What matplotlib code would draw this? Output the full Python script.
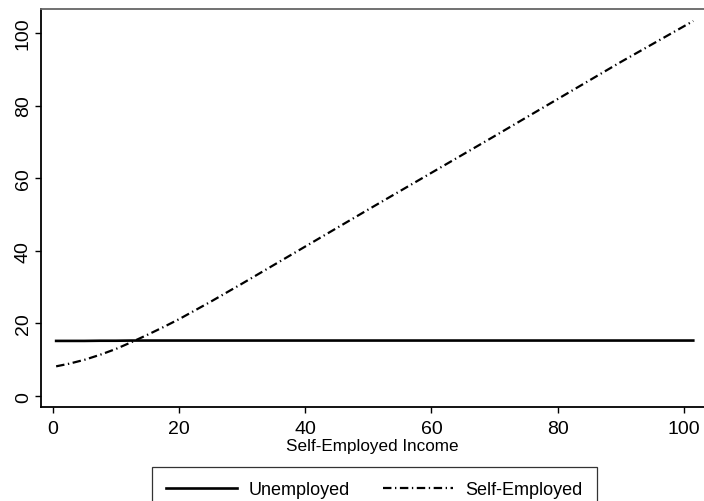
import matplotlib
matplotlib.use("Agg")
import matplotlib.pyplot as plt

plt.rcParams["font.family"] = ["Liberation Sans", "DejaVu Sans"]

# income grid and predicted values
income = [0.5, 2.5, 5, 7.5, 10, 12.5, 15, 17.5, 20, 25, 30, 40, 50, 60, 70, 80, 90, 101.5]
unemployed = [15.2, 15.2, 15.2, 15.25, 15.25, 15.3, 15.3, 15.3, 15.3, 15.3,
              15.3, 15.3, 15.3, 15.3, 15.3, 15.3, 15.3, 15.3]
self_employed = [8.2, 8.9, 10.0, 11.4, 13.0, 14.9, 16.9, 19.0, 21.2, 26.0,
                 31.0, 41.2, 51.4, 61.5, 71.6, 81.8, 92.0, 103.3]

x_ticks = [0, 20, 40, 60, 80, 100]
y_ticks = [0, 20, 40, 60, 80, 100]

fig = plt.figure(figsize=(7.04, 5.02), dpi=100)
ax = fig.add_axes([41 / 704, 1 - 408 / 502, 1 - 41 / 704, 398 / 502])

ax.plot(income, unemployed, color="black", lw=1.9, label="Unemployed")
ax.plot(income, self_employed, color="black", lw=1.6,
        dashes=(3.8, 1.6, 0.6, 1.6), label="Self-Employed")

ax.set_xlim(-1.9, 103.2)
ax.set_ylim(-3.0, 106.6)
ax.set_xticks(x_ticks)
ax.set_yticks(y_ticks)
ax.tick_params(direction="out", length=4.5, width=1, labelsize=14, pad=4.5)
ax.tick_params(axis="y", pad=2)
for lab in ax.get_yticklabels():
    lab.set_rotation(90)
    lab.set_va("center")

ax.spines["right"].set_visible(False)
ax.spines["top"].set_color("#666666")
for s in ["left", "bottom", "top"]:
    ax.spines[s].set_linewidth(1.3)

ax.set_xlabel("Self-Employed Income", fontsize=12.3, labelpad=1)

leg = fig.legend(loc="upper center", bbox_to_anchor=(374.5 / 704, 1 - 468 / 502),
                 ncol=2, fontsize=13, frameon=True, fancybox=False,
                 edgecolor="black", handlelength=3.9, handletextpad=0.67,
                 columnspacing=1.8, borderpad=0.8, borderaxespad=0)
leg.get_frame().set_linewidth(0.9)

fig.savefig("out.png", dpi=100)
